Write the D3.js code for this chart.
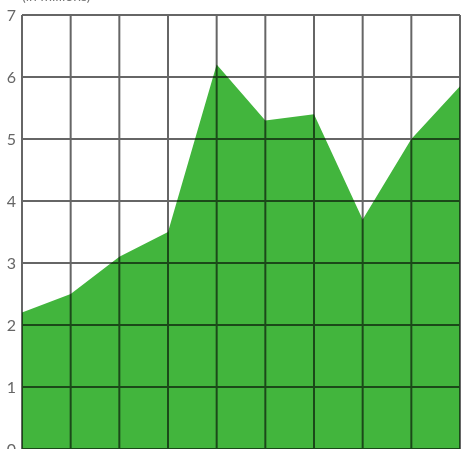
<!DOCTYPE html>
<html>
<head>
<meta charset="utf-8">
<script src="https://cdn.jsdelivr.net/npm/d3@7"></script>
<style>
  body { margin: 0; background: #fff; }
  svg { display: block; }
</style>
</head>
<body>
<script>
// valeurs (en millions)
var periods = [0, 1, 2, 3, 4, 5, 6, 7, 8, 9];
var values = [2.2, 2.5, 3.1, 3.5, 6.2, 5.3, 5.4, 3.7, 5.0, 5.85];
var yTicks = [0, 1, 2, 3, 4, 5, 6, 7];
var unitLabel = "(in millions)";

var width = 461, height = 449;

var svg = d3.select("body").append("svg")
  .attr("width", width)
  .attr("height", height);

var x = d3.scaleLinear().domain([0, 9]).range([22, 460]);
var y = d3.scaleLinear().domain([0, 7]).range([449, 15]);

// zone verte
var area = d3.area()
  .x(function(d, i) { return x(periods[i]); })
  .y0(y(0))
  .y1(function(d) { return y(d); });

svg.append("path")
  .datum(values)
  .attr("d", area)
  .style("fill", "#42b53d");

// grille par-dessus, en mode multiply pour foncer sur le vert
var grid = svg.append("g").style("mix-blend-mode", "multiply");

grid.selectAll(".h")
  .data(yTicks)
  .enter().append("line")
  .attr("x1", x(0)).attr("x2", x(9))
  .attr("y1", function(d) { return y(d); })
  .attr("y2", function(d) { return y(d); })
  .style("stroke", "#666")
  .style("stroke-width", 2);

grid.selectAll(".v")
  .data(periods)
  .enter().append("line")
  .attr("x1", function(d) { return x(d); })
  .attr("x2", function(d) { return x(d); })
  .attr("y1", y(7)).attr("y2", y(0))
  .style("stroke", "#666")
  .style("stroke-width", 2);

// axe gauche
var yAxis = d3.axisLeft(y).tickValues(yTicks).tickFormat(d3.format("d"))
  .tickSize(0).tickPadding(6);
var ax = svg.append("g")
  .attr("transform", "translate(" + x(0) + ",0)")
  .call(yAxis);
ax.select(".domain").remove();
ax.selectAll("text")
  .style("font-family", "Lato, 'Open Sans', sans-serif")
  .style("font-size", "16px")
  .style("fill", "#666");

svg.append("text")
  .attr("x", 22)
  .attr("y", 1)
  .text(unitLabel)
  .style("font-family", "Lato, 'Open Sans', sans-serif")
  .style("font-size", "14px")
  .style("fill", "#777");
</script>
</body>
</html>
